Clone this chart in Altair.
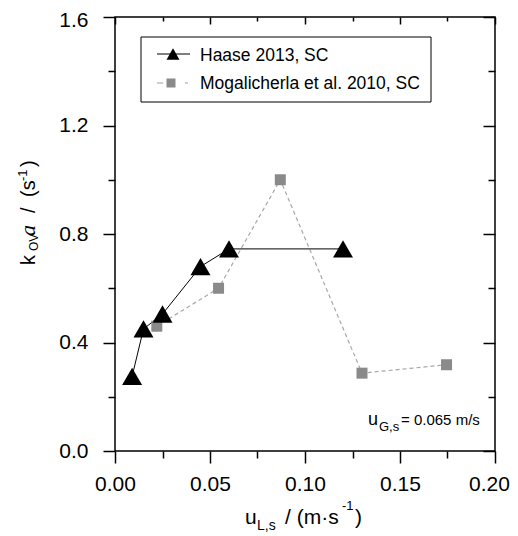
import altair as alt
import pandas as pd

# ---------------- data ----------------
haase_x = [0.009, 0.015, 0.025, 0.045, 0.060, 0.120]
haase_y = [0.275, 0.45, 0.505, 0.68, 0.745, 0.745]
mog_x = [0.022, 0.0545, 0.087, 0.130, 0.1745]
mog_y = [0.46, 0.60, 1.00, 0.287, 0.318]
series_names = ["Haase 2013, SC", "Mogalicherla et al. 2010, SC"]
x_ticks = [0.0, 0.025, 0.05, 0.075, 0.10, 0.125, 0.15, 0.175, 0.20]
y_ticks = [0.0, 0.2, 0.4, 0.6, 0.8, 1.0, 1.2, 1.4, 1.6]
annotation = ["u", "G,s", "= 0.065 m/s"]

haase = pd.DataFrame({"x": haase_x, "y": haase_y})
mog = pd.DataFrame({"x": mog_x, "y": mog_y})
one = pd.DataFrame({"a": [0]})

W, H = 380, 434
SANS = "Liberation Sans"
SERIF = "Liberation Serif"

xs = alt.Scale(domain=[0, 0.2], nice=False, zero=False)
ys = alt.Scale(domain=[0, 1.6], nice=False, zero=False)

x_major = "round(datum.value*1000) % 50 == 0"
y_major = "round(datum.value*10) % 4 == 0"

bottom_axis = alt.Axis(
    orient="bottom", values=x_ticks, title=None, domain=False, grid=False,
    labelExpr=f"{x_major} ? format(datum.value, '.2f') : ''",
    labelFont=SANS, labelFontSize=21, labelColor="black", labelPadding=10,
    labelFlush=False, labelOverlap=False,
    labelOffset=alt.ExprRef(expr="datum.value > 0.19 ? -6 : 0"),
    tickColor="black", tickWidth=1.5,
    tickSize=alt.ExprRef(expr=f"{x_major} ? 12 : 7"),
)
left_axis = alt.Axis(
    orient="left", values=y_ticks, title=None, domain=False, grid=False,
    labelExpr=f"{y_major} ? format(datum.value, '.1f') : ''",
    labelFont=SANS, labelFontSize=21, labelColor="black", labelPadding=15,
    labelFlush=False, labelOverlap=False,
    labelOffset=alt.ExprRef(expr="datum.value > 1.55 ? 3.5 : 0"),
    tickColor="black", tickWidth=1.5,
    tickSize=alt.ExprRef(expr=f"{y_major} ? 12 : 7"),
)
top_axis = alt.Axis(
    orient="top", values=x_ticks, title=None, domain=False, grid=False, labels=False,
    tickColor="black", tickWidth=1.5,
    tickSize=alt.ExprRef(expr=f"{x_major} ? -7 : -4"),
)
right_axis = alt.Axis(
    orient="right", values=y_ticks, title=None, domain=False, grid=False, labels=False,
    tickColor="black", tickWidth=1.5,
    tickSize=alt.ExprRef(expr=f"{y_major} ? -12 : -7"),
)

def enc(chart, xa=None, ya=None):
    return chart.encode(
        x=alt.X("x:Q", scale=xs, axis=xa),
        y=alt.Y("y:Q", scale=ys, axis=ya),
    )

mog_line = enc(alt.Chart(mog).mark_line(color="#a8a8a8", strokeWidth=1.2, strokeDash=[4, 3]))
mog_pts = enc(alt.Chart(mog).mark_point(shape="square", filled=True, size=121, color="#8a8a8a", opacity=1))
haase_line = enc(alt.Chart(haase).mark_line(color="black", strokeWidth=1), bottom_axis, left_axis)
haase_pts = enc(alt.Chart(haase).mark_point(shape="triangle-up", filled=True, size=400, color="black", opacity=1))
frame_axes = enc(alt.Chart(haase).mark_point(opacity=0), top_axis, right_axis)


def txt(s, x, y, size, font=SANS, angle=0, style="normal"):
    return alt.Chart(pd.DataFrame({"t": [s]})).mark_text(
        align="left", baseline="alphabetic", font=font, fontSize=size,
        angle=angle, fontStyle=style, color="black",
    ).encode(x=alt.value(x), y=alt.value(y), text="t:N")

# x-axis title: u_{L,s} / (m·s^-1)
x_title = [
    txt("u", 130, 507, 21),
    txt("L,s", 142, 513, 14),
    txt("/ (m·s", 170, 507, 21),
    txt("-1", 227, 493, 13),
    txt(")", 240, 507, 21),
]
# y-axis title: k_OV a / (s^-1)  (rotated)
y_title = [
    txt("k", -80, 248, 20, angle=270),
    txt("OV", -77, 234, 12, angle=270),
    txt("a", -80, 219, 22, font=SERIF, angle=270, style="italic"),
    txt("/", -80, 196, 20, angle=270),
    txt("(s", -80, 180, 20, angle=270),
    txt("-1", -88, 164, 13, angle=270),
    txt(")", -80, 150, 20, angle=270),
]
# annotation
annot = [
    txt(annotation[0], 253, 408, 18),
    txt(annotation[1], 264, 414, 13),
    txt(annotation[2], 286, 408, 15),
]
# legend
legend_box = alt.Chart(one).mark_rect(fill="white", stroke="black", strokeWidth=1).encode(
    x=alt.value(26), x2=alt.value(316), y=alt.value(20), y2=alt.value(85))
leg1_line = alt.Chart(one).mark_rule(color="black", strokeWidth=1).encode(
    x=alt.value(42), x2=alt.value(75), y=alt.value(37))
leg1_pt = alt.Chart(one).mark_point(shape="triangle-up", filled=True, size=169, color="black", opacity=1).encode(
    x=alt.value(58), y=alt.value(37))
leg2_line = alt.Chart(one).mark_rule(color="#a0a0a0", strokeWidth=1.2, strokeDash=[6, 22, 3, 20]).encode(
    x=alt.value(42), x2=alt.value(75), y=alt.value(66))
leg2_pt = alt.Chart(one).mark_point(shape="square", filled=True, size=81, color="#8a8a8a", opacity=1).encode(
    x=alt.value(56), y=alt.value(66))
legend = [
    legend_box, leg1_line, leg1_pt, leg2_line, leg2_pt,
    txt(series_names[0], 85, 44, 17.5),
    txt(series_names[1], 85, 72, 17.5),
]

chart = alt.layer(
    mog_line, haase_line, mog_pts, haase_pts, frame_axes,
    *legend, *annot, *x_title, *y_title,
).resolve_axis(x="independent", y="independent").properties(
    width=W, height=H,
    padding={"left": 107, "top": 9, "right": 15, "bottom": 82},
    autosize=alt.AutoSizeParams(type="none"),
    background="white",
).configure_view(stroke="black", strokeWidth=1.5)

chart.save("out.html", embed_options={"renderer": "svg", "actions": False})
